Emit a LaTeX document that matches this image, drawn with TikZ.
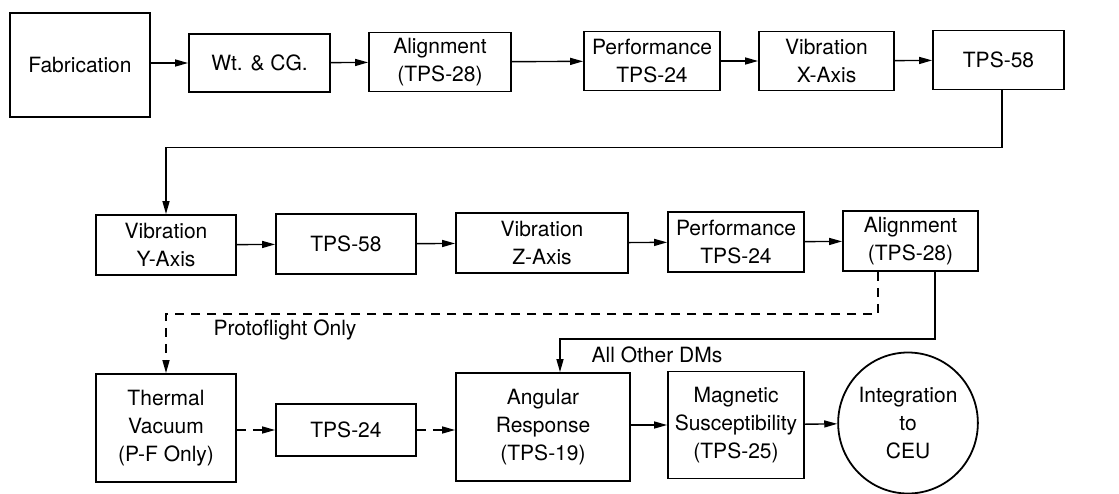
\documentclass[tikz,border=0pt]{standalone}
\usepackage{fontspec}
\setsansfont{TeX Gyre Heros}
\usetikzlibrary{arrows.meta,
  positioning,
  shapes.geometric
}

\begin{document}
\begin{tikzpicture}[
  x=1pt, y=-1pt,
  font=\sffamily\fontsize{21}{28}\selectfont,
  box/.style={draw, line width=1.8, align=center, inner sep=0pt},
  link/.style={-{Triangle[length=13pt,width=7pt]}, line width=1.4},
  dlink/.style={link, dash pattern=on 9pt off 7pt}]

  \useasboundingbox (0,0) rectangle (1119,493);

  % first row
  \node[box, minimum width=140, minimum height=104] (fab) at (80,65) {Fabrication};
  \node[box, minimum width=141, minimum height=58] (wt) at (259.5,63) {Wt. \& CG.};
  \node[box, minimum width=142, minimum height=59] (alA) at (440,62) {Alignment\\(TPS-28)};
  \node[box, minimum width=136, minimum height=59] (perfA) at (652,61) {Performance\\TPS-24};
  \node[box, minimum width=135, minimum height=59] (vibX) at (826.5,61) {Vibration\\X-Axis};
  \node[box, minimum width=131, minimum height=59] (tpsA) at (998.5,60) {TPS-58};

  % second row
  \node[box, minimum width=140, minimum height=60] (vibY) at (166,245) {Vibration\\Y-Axis};
  \node[box, minimum width=140, minimum height=60] (tpsB) at (346,244) {TPS-58};
  \node[box, minimum width=172, minimum height=60] (vibZ) at (542,243) {Vibration\\Z-Axis};
  \node[box, minimum width=136, minimum height=60] (perfB) at (736,242) {Performance\\TPS-24};
  \node[box, minimum width=135, minimum height=60] (alB) at (910.5,241) {Alignment\\(TPS-28)};

  % third row
  \node[box, minimum width=140, minimum height=108] (therm) at (166,428) {Thermal\\Vacuum\\(P-F Only)};
  \node[box, minimum width=140, minimum height=52] (tpsC) at (346,430) {TPS-24};
  \node[box, minimum width=174, minimum height=108] (ang) at (543,427) {Angular\\Response\\(TPS-19)};
  \node[box, minimum width=136, minimum height=107] (mag) at (736,425) {Magnetic\\Susceptibility\\(TPS-25)};
  \node[box, ellipse, minimum width=130, minimum height=141] (ceu) at (908,423) {Integration\\to\\CEU};

  \node (protoLabel) at (285,330) {Protoflight Only};
  \node (otherLabel) at (657,355) {All Other DMs};

  \draw[link] (fab.east |- wt.west) -- (wt.west);
  \draw[link] (wt) -- (alA);
  \draw[link] (alA) -- (perfA);
  \draw[link] (perfA) -- (vibX);
  \draw[link] (vibX) -- (tpsA);
  \draw[link] ([xshift=3.5pt]tpsA.south) -- ++(0,57) -| (vibY.north);

  \draw[link] (vibY) -- (tpsB);
  \draw[link] (tpsB) -- (vibZ);
  \draw[link] (vibZ) -- (perfB);
  \draw[link] (perfB) -- (alB);

  \draw[dlink] ([xshift=-32.5pt]alB.south) -- ++(0,42) -| (therm.north);
  \draw[link] ([xshift=24.5pt]alB.south) -- ++(0,67) -| ([xshift=17pt]ang.north);

  \draw[dlink] (therm.east |- tpsC.west) -- (tpsC.west);
  \draw[dlink] (tpsC.east) -- (tpsC.east -| ang.west);
  \draw[link] (ang.east |- mag.west) -- (mag.west);
  \draw[link] (mag) -- (ceu);
\end{tikzpicture}
\end{document}
